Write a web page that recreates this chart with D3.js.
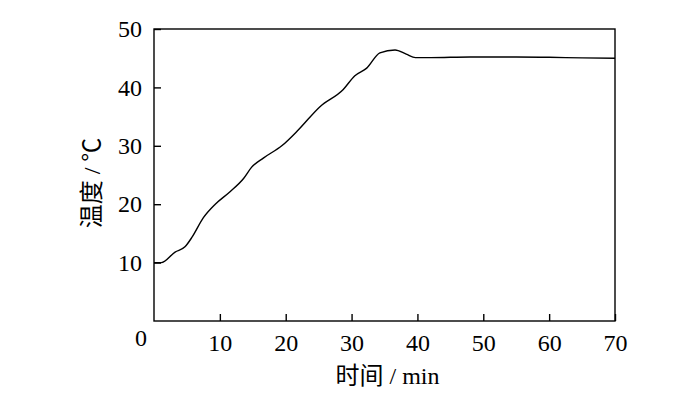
<!DOCTYPE html>
<html>
<head>
<meta charset="utf-8">
<script src="https://cdn.jsdelivr.net/npm/d3@7"></script>
<style>
  body { margin: 0; background: #fff; }
  svg text { font-family: "Liberation Serif", "Noto Sans CJK SC", serif; font-size: 24px; fill: #000; }
</style>
</head>
<body>
<svg id="chart" width="700" height="403"></svg>
<script>
// time (min) and temperature (°C)
const times = [0, 1.1, 3.2, 4.7, 5.8, 7.5, 9.3, 11.5, 13.6, 14.8, 16.6, 19.4, 21.9, 25.2, 28.7, 30.5, 32.3, 34.3, 36.6, 38.3, 39.7, 42, 48, 55, 60, 65, 70];
const temps = [10, 10, 11.8, 12.7, 14.4, 17.7, 20.0, 22.1, 24.4, 26.3, 27.9, 30.0, 32.7, 36.7, 39.6, 42.0, 43.3, 45.9, 46.4, 45.7, 45.1, 45.1, 45.2, 45.2, 45.15, 45.05, 45.0];
const xTicks = [10, 20, 30, 40, 50, 60, 70];
const yTicks = [10, 20, 30, 40, 50];

const svg = d3.select('#chart');
const plotL = 154, plotR = 615, plotT = 29, plotB = 321;

const x = d3.scaleLinear().domain([0, 70]).range([plotL, plotR]);
const y = d3.scaleLinear().domain([0, 50]).range([plotB, plotT]);

// frame
svg.append('rect')
  .attr('x', plotL).attr('y', plotT)
  .attr('width', plotR - plotL).attr('height', plotB - plotT)
  .attr('fill', 'none').attr('stroke', '#000').attr('stroke-width', 1.4);

// bottom axis, ticks pointing inward
const xAxis = svg.append('g')
  .attr('transform', `translate(0,${plotB})`)
  .call(d3.axisBottom(x).tickValues(xTicks).tickSizeInner(-7).tickSizeOuter(0).tickPadding(13));
xAxis.attr('font-size', null).attr('font-family', null);
xAxis.select('.domain').remove();
xAxis.selectAll('line').attr('stroke-width', 1.4);

// left axis
const yAxis = svg.append('g')
  .attr('transform', `translate(${plotL},0)`)
  .call(d3.axisLeft(y).tickValues(yTicks).tickSizeInner(-7).tickSizeOuter(0).tickPadding(12));
yAxis.attr('font-size', null).attr('font-family', null);
yAxis.select('.domain').remove();
yAxis.selectAll('line').attr('stroke-width', 1.4);

// shared origin label
svg.append('text')
  .attr('x', x(0) - 13).attr('y', plotB + 25)
  .attr('text-anchor', 'middle')
  .text('0');

// temperature curve
const pts = times.map((t, i) => [t, temps[i]]);
svg.append('path')
  .datum(pts)
  .attr('fill', 'none')
  .attr('stroke', '#000')
  .attr('stroke-width', 1.4)
  .attr('d', d3.line().x((d) => x(d[0])).y((d) => y(d[1])).curve(d3.curveMonotoneX));

// axis titles
svg.append('text')
  .attr('x', (plotL + plotR) / 2 + 3).attr('y', 384)
  .attr('text-anchor', 'middle')
  .text('时间 / min');

svg.append('text')
  .attr('transform', 'translate(100,183) rotate(-90)')
  .attr('text-anchor', 'middle')
  .text('温度 / ℃');
</script>
</body>
</html>
